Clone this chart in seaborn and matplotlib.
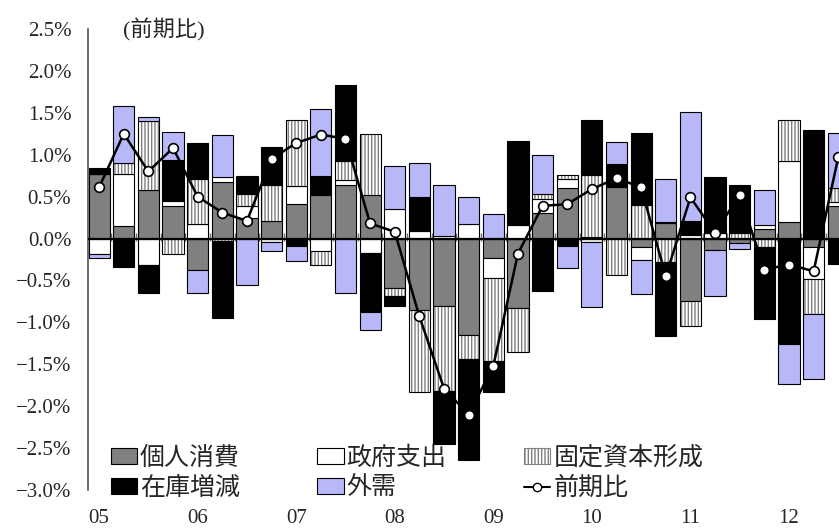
import numpy as np
import matplotlib
matplotlib.use("Agg")
import matplotlib.pyplot as plt
from matplotlib.patches import Patch
from matplotlib.lines import Line2D
import seaborn as sns

# ------------------------------------------------------------
# Data: contributions to real GDP growth (q/q, %), 2005Q1 - 2012Q3
# ------------------------------------------------------------
year_labels = ["05", "06", "07", "08", "09", "10", "11", "12"]

consumption = [0.77, 0.15, 0.58, 0.39, -0.38, 0.68, 0.25, 0.21,
               0.41, 0.52, 0.64, 0.52, -0.59, -0.85, -0.81, -1.15,
               -0.23, -0.83, 0.31, 0.60, 0.02, 0.61, -0.10, 0.18,
               -0.75, -0.14, -0.05, 0.11, 0.20, -0.10, 0.39]
government = [-0.18, 0.62, -0.31, 0.06, 0.17, 0.06, 0.14, -0.04,
              0.22, -0.15, 0.06, -0.17, 0.35, 0.09, 0.03, 0.17,
              -0.24, 0.16, 0.16, 0.11, -0.04, 0.02, -0.16, 0.02,
              0.04, 0.07, 0.00, 0.05, 0.72, -0.38, 0.04]
investment = [0.00, 0.13, 0.82, -0.19, 0.54, -0.03, 0.14, 0.43,
              0.78, -0.16, 0.23, 0.73, -0.09, -0.98, -1.01, -0.29,
              -0.99, -0.52, 0.06, 0.05, 0.74, -0.43, 0.40, -0.28,
              -0.29, 0.00, 0.07, -0.10, 0.49, -0.42, 0.17]
inventory = [0.07, -0.34, -0.34, 0.49, 0.43, -0.92, 0.22, 0.45,
             -0.09, 0.23, 0.90, -0.71, -0.12, 0.40, -0.63, -1.20,
             -0.37, 0.99, -0.63, -0.09, 0.65, 0.26, 0.86, -0.88,
             0.17, 0.67, 0.57, -0.86, -1.26, 1.29, -0.30]
external = [-0.05, 0.68, 0.05, 0.33, -0.27, 0.50, -0.56, -0.11,
            -0.18, 0.80, -0.65, -0.21, 0.51, 0.41, 0.61, 0.33,
            0.29, 0.01, 0.47, -0.26, -0.78, 0.26, -0.40, 0.51,
            1.30, -0.54, -0.08, 0.42, -0.47, -0.78, 0.66]
qoq = [0.61, 1.25, 0.80, 1.08, 0.50, 0.31, 0.21, 0.95,
       1.14, 1.24, 1.19, 0.18, 0.08, -0.93, -1.79, -2.10,
       -1.52, -0.18, 0.39, 0.41, 0.59, 0.72, 0.61, -0.45,
       0.49, 0.07, 0.52, -0.37, -0.31, -0.39, 0.97]

names = ["個人消費", "政府支出", "固定資本形成", "在庫増減", "外需"]
series = [consumption, government, investment, inventory, external]

# ------------------------------------------------------------
# Style
# ------------------------------------------------------------
sns.set_style("white")
plt.rcParams["font.family"] = ["Liberation Serif", "Noto Sans CJK JP"]
plt.rcParams["hatch.linewidth"] = 1.0

grey = "#808080"
blue = "#b8b8f8"
styles = [
    dict(color=grey),
    dict(color="white"),
    dict(color="white", hatch="|||||"),
    dict(color="black"),
    dict(color=blue),
]

fig = plt.figure(figsize=(8.39, 5.30), dpi=100)
ax = fig.add_axes([0.1049, 0.0755, 0.8951, 0.8698])

pos = np.arange(len(qoq))
width = 0.86
pos_bottom = np.zeros(len(qoq))
neg_bottom = np.zeros(len(qoq))

# stacked bars, positive and negative parts stacked separately
for vals, st in zip(series, styles):
    vals = np.array(vals)
    bottom = np.where(vals >= 0, pos_bottom, neg_bottom)
    if "hatch" in st:
        ax.bar(pos, vals, width, bottom=bottom, color="white",
               edgecolor=grey, hatch=st["hatch"], linewidth=0, zorder=2)
        ax.bar(pos, vals, width, bottom=bottom, fill=False,
               edgecolor="black", linewidth=0.8, zorder=2)
    else:
        ax.bar(pos, vals, width, bottom=bottom, color=st["color"],
               edgecolor="black", linewidth=0.8, zorder=2)
    pos_bottom += np.where(vals >= 0, vals, 0)
    neg_bottom += np.where(vals < 0, vals, 0)

# zero line with small quarter separators
ax.axhline(0, color="black", lw=1.6, zorder=3)
ax.vlines(pos[1:] - 0.5, -0.03, 0.07, color="#707070", lw=1.0, zorder=1)

sns.lineplot(x=pos, y=qoq, ax=ax, color="black", lw=1.8, marker="o",
             markersize=7, markerfacecolor="white", markeredgecolor="black",
             markeredgewidth=1.2, zorder=5, legend=False)

# ------------------------------------------------------------
# Axes
# ------------------------------------------------------------
ax.set_xlim(-0.45, 30.03)
ax.set_ylim(-3.0, 2.5)
yt = np.arange(-3.0, 2.51, 0.5)
ax.set_yticks(yt)
ax.set_yticklabels([f"{v:.1f}%".replace("-", "\u2212") for v in yt], fontsize=15)
ax.set_xticks(pos[::4])
ax.set_xticklabels(year_labels, fontsize=15)
ax.tick_params(axis="x", length=0, pad=14)
ax.tick_params(axis="y", direction="in", length=7, width=1.2, color="#555555", pad=12)
for s in ["top", "right", "bottom"]:
    ax.spines[s].set_visible(False)
ax.spines["left"].set_color("#555555")
ax.spines["left"].set_linewidth(1.2)
ax.set_xlabel("")
ax.set_ylabel("")

ax.text(0.047, 0.998, "(前期比)", transform=ax.transAxes, fontsize=16,
        va="center", ha="left")

handles = [Patch(facecolor=grey, edgecolor="black", lw=0.8),
           Patch(facecolor="white", edgecolor="black", lw=0.8),
           Patch(facecolor="white", edgecolor=grey, hatch="|||||", lw=0.8),
           Patch(facecolor="black", edgecolor="black", lw=0.8),
           Patch(facecolor=blue, edgecolor="black", lw=0.8),
           Line2D([0], [0], color="black", lw=1.5, marker="o", markersize=6,
                  markerfacecolor="white", markeredgecolor="black")]
labels = names + ["前期比"]
# order so that rows read: 個人消費 政府支出 固定資本形成 / 在庫増減 外需 前期比
order = [0, 3, 1, 4, 2, 5]
leg = ax.legend([handles[i] for i in order], [labels[i] for i in order], ncol=3,
                loc="lower left", bbox_to_anchor=(0.0, -0.071), frameon=False,
                fontsize=18, handlelength=1.05, handleheight=0.62, handletextpad=0.12,
                columnspacing=3.1, labelspacing=0.28)
leg.set_zorder(6)

plt.savefig("out.png", dpi=100)
plt.close()
